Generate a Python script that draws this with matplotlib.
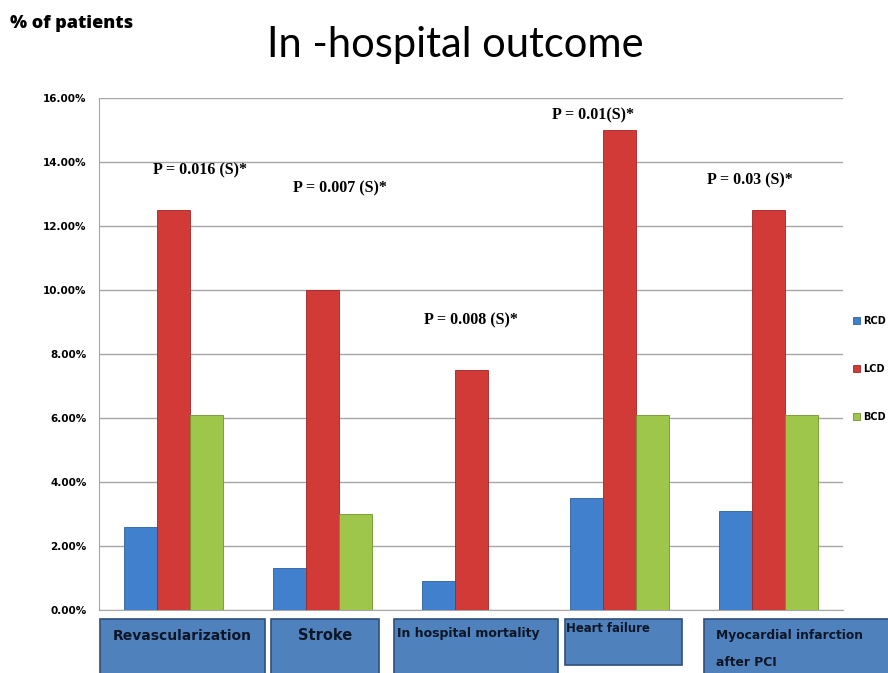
import matplotlib
matplotlib.use("Agg")
import matplotlib.pyplot as plt
from matplotlib.patches import Rectangle
from matplotlib.ticker import FuncFormatter
import numpy as np

# Outcome categories and percentage of patients per dominance group
categories = ["Revascularization", "Stroke", "In hospital mortality",
              "Heart failure", "Myocardial infarction\nafter PCI"]
rcd = [2.6, 1.3, 0.9, 3.5, 3.1]
lcd = [12.5, 10.0, 7.5, 15.0, 12.5]
bcd = [6.1, 3.0, 0.0, 6.1, 6.1]
series_names = ["RCD", "LCD", "BCD"]
p_labels = ["P = 0.016 (S)*", "P = 0.007 (S)*", "P = 0.008 (S)*",
            "P = 0.01(S)*", "P = 0.03 (S)*"]
y_ticks = [0, 2, 4, 6, 8, 10, 12, 14, 16]

colors = ["#4080CC", "#D23A38", "#9DC64A"]
edges = ["#2E5F9E", "#9E2624", "#6F9330"]

fig = plt.figure(figsize=(8.88, 6.73), dpi=100)
ax = fig.add_axes([0.1115, 0.0936, 0.838, 0.7608])

x = np.arange(len(categories))
w = 0.222
for i, (vals, name) in enumerate(zip([rcd, lcd, bcd], series_names)):
    ax.bar(x + (i - 1) * w, vals, width=w, color=colors[i],
           edgecolor=edges[i], linewidth=0.6, label=name, zorder=3)

ax.set_xlim(-0.5, len(categories) - 0.5)
ax.set_ylim(0, 16)
ax.set_yticks(y_ticks)
ax.yaxis.set_major_formatter(FuncFormatter(lambda v, _: f"{v:.2f}%"))
ax.tick_params(axis="y", length=0, pad=9, labelsize=7.5)
for lab in ax.get_yticklabels():
    lab.set_fontweight("bold")
ax.set_xticks([])
ax.grid(axis="y", color="#A6A6A6", linewidth=1, zorder=0)
for s in ["top", "right"]:
    ax.spines[s].set_visible(False)
ax.spines["left"].set_color("#A6A6A6")
ax.spines["bottom"].set_color("#A6A6A6")

# P-value annotations above each group (x offset from category, y in %)
p_pos = [(0.18, 13.75), (0.12, 13.16), (0.0, 9.06), (-0.18, 15.47), (-0.125, 13.44)]
for k, (lbl, (dx, yy)) in enumerate(zip(p_labels, p_pos)):
    ax.text(k + dx, yy, lbl, ha="center", va="center", fontsize=11.5,
            family="Liberation Serif", fontweight="bold", zorder=5)

# Category label boxes below the axis (figure pixel coordinates)
W, H = 888, 673
boxes = [(100, 619, 165, 60), (271, 619, 108, 60), (394, 619, 164, 60),
         (565, 619, 117, 46), (704, 619, 190, 60)]
text_spec = [("center", 10, 636, 0), ("center", 10.5, 636, 0), ("left", 9, 633, 3),
             ("left", 8.4, 629, 1), ("left", 8.8, 636, 12)]
line_gap = 26
for (bx, by, bw, bh), cat, (ha, fs, ty, dx) in zip(boxes, categories, text_spec):
    fig.patches.append(Rectangle((bx / W, 1 - (by + bh) / H), bw / W, bh / H,
                                 transform=fig.transFigure, facecolor="#4F81BD",
                                 edgecolor="#2F4F7A", linewidth=1.2))
    tx = (bx + bw / 2) if ha == "center" else (bx + dx)
    for j, line in enumerate(cat.split("\n")):
        fig.text(tx / W, 1 - (ty + j * line_gap) / H, line, ha=ha,
                 va="center", fontsize=fs, fontweight="bold", color="#0D1626")

# Titles
fig.text(455 / W, 1 - 57 / H, "In -hospital outcome", ha="center", va="baseline",
         fontsize=30, family="Lato")
fig.text(10 / W, 1 - 28 / H, "% of patients", ha="left", va="baseline",
         fontsize=13, fontweight="heavy", family="Open Sans")

fig.legend(loc="upper left", bbox_to_anchor=(853 / W, 1 - 316 / H),
           frameon=False, handlelength=0.7, handleheight=0.7,
           handletextpad=0.3, labelspacing=3.9, borderpad=0, borderaxespad=0,
           prop={"weight": "bold", "size": 7})

fig.savefig("out.png", dpi=100)
